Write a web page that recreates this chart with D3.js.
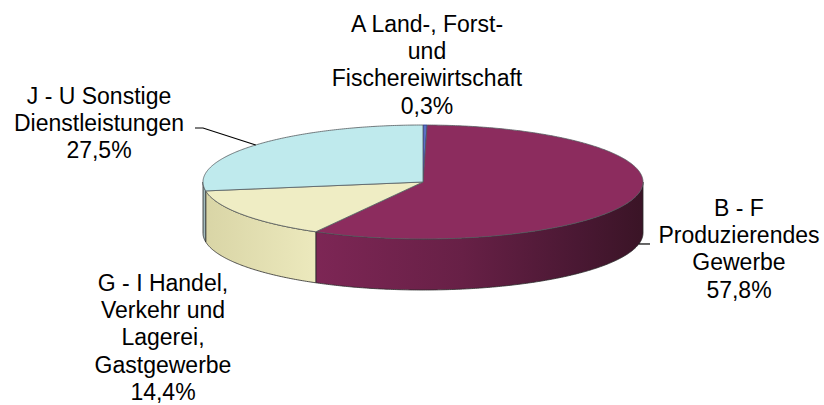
<!DOCTYPE html>
<html><head><meta charset="utf-8">
<script src="https://cdn.jsdelivr.net/npm/d3@7"></script>
<style>html,body{margin:0;padding:0;background:#fff;}svg{display:block;}</style>
</head><body>
<svg id="chart" width="824" height="405"></svg>
<script>
// ---- data ----
const categories = ["A Land-, Forst- und Fischereiwirtschaft", "B - F Produzierendes Gewerbe", "G - I Handel, Verkehr und Lagerei, Gastgewerbe", "J - U Sonstige Dienstleistungen"];
const values = [0.3, 57.8, 14.4, 27.5];
const valueLabels = ["0,3%", "57,8%", "14,4%", "27,5%"];
const labelLines = [
  ["A Land-, Forst-", "und", "Fischereiwirtschaft"],
  ["B - F", "Produzierendes", "Gewerbe"],
  ["G - I Handel,", "Verkehr und", "Lagerei,", "Gastgewerbe"],
  ["J - U Sonstige", "Dienstleistungen"]
];

// ---- style / layout ----
const topColors = ["#5a6fc6", "#8c2c5e", "#efedc4", "#bfeaed"];
const wallColors = [["#3e54a8", "#3e54a8"], ["#7e2656", "#3a1426"], ["#d9d5a6", "#ece9bd"], ["#9fb4b7", "#a9c2c5"]];
const cx = 423, cy = 182, rx = 220, ry = 57, depth = 51;
const fontSize = 23, lineH = 27.2;
const labelPos = [ {x: 427, y: 32}, {x: 739, y: 216}, {x: 163, y: 291}, {x: 99, y: 104} ];

const svg = d3.select("#chart");
const defs = svg.append("defs");

const pie = d3.pie().sort(null).value(d => d);
const arcs = pie(values);

const px = a => cx + rx * Math.sin(a);
const py = a => cy - ry * Math.cos(a);

function arcPoints(a0, a1, dy) {
  const n = Math.max(2, Math.ceil(Math.abs(a1 - a0) / 0.01));
  const pts = [];
  for (let i = 0; i <= n; i++) {
    const a = a0 + (a1 - a0) * i / n;
    pts.push([px(a), py(a) + dy]);
  }
  return pts;
}

const line = d3.line();

// walls (front half: angles between PI/2 and 3PI/2)
const wallG = svg.append("g");
arcs.forEach((d, i) => {
  const s = Math.max(d.startAngle, Math.PI / 2);
  const e = Math.min(d.endAngle, 3 * Math.PI / 2);
  if (e <= s) return;
  const top = arcPoints(s, e, 0);
  const bot = arcPoints(e, s, depth);
  const xs = top.map(p => p[0]);
  const gid = "wall" + i;
  const g = defs.append("linearGradient").attr("id", gid)
    .attr("gradientUnits", "userSpaceOnUse")
    .attr("x1", d3.min(xs)).attr("x2", d3.max(xs)).attr("y1", 0).attr("y2", 0);
  if (i === 1) {
    g.append("stop").attr("offset", 0).attr("stop-color", "#7d2655");
    g.append("stop").attr("offset", 0.45).attr("stop-color", "#672046");
    g.append("stop").attr("offset", 0.8).attr("stop-color", "#4a1833");
    g.append("stop").attr("offset", 1).attr("stop-color", "#3a1426");
  } else {
    g.append("stop").attr("offset", 0).attr("stop-color", wallColors[i][0]);
    g.append("stop").attr("offset", 1).attr("stop-color", wallColors[i][1]);
  }
  wallG.append("path")
    .attr("d", line(top.concat(bot)) + "Z")
    .attr("fill", `url(#${gid})`)
    .attr("stroke", "#2a2a2a").attr("stroke-width", 0.8).attr("stroke-linejoin", "round");
});

// tops
const topG = svg.append("g");
arcs.forEach((d, i) => {
  const pts = [[cx, cy]].concat(arcPoints(d.startAngle, d.endAngle, 0));
  topG.append("path")
    .attr("d", line(pts) + "Z")
    .attr("fill", topColors[i])
    .attr("stroke", i === 0 ? "#223388" : "#555c60").attr("stroke-width", 0.8).attr("stroke-linejoin", "round");
});

// leader lines
const lead = svg.append("g").attr("fill", "none").attr("stroke", "#000").attr("stroke-width", 1.2);
{
  // J slice
  const d = arcs[3];
  const m = (d.startAngle + d.endAngle) / 2;
  lead.append("path").attr("d", line([[195, 128], [203, 128], [px(m), py(m)]]));
  // B slice
  const b = arcs[1];
  const mb = (b.startAngle + b.endAngle) / 2 - 0.07;
  lead.append("path").attr("d", line([[px(mb), py(mb) + depth], [650, py(mb) + depth]]));
}

// labels
const lab = svg.append("g")
  .attr("font-family", "'Liberation Sans', Arial, sans-serif")
  .attr("font-size", fontSize).attr("fill", "#000").attr("text-anchor", "middle");
labelLines.forEach((lines, i) => {
  const all = lines.concat([valueLabels[i]]);
  const t = lab.append("text").attr("x", labelPos[i].x).attr("y", labelPos[i].y);
  all.forEach((s, k) => {
    t.append("tspan").attr("x", labelPos[i].x).attr("y", labelPos[i].y + k * lineH).text(s);
  });
});
</script>
</body></html>
